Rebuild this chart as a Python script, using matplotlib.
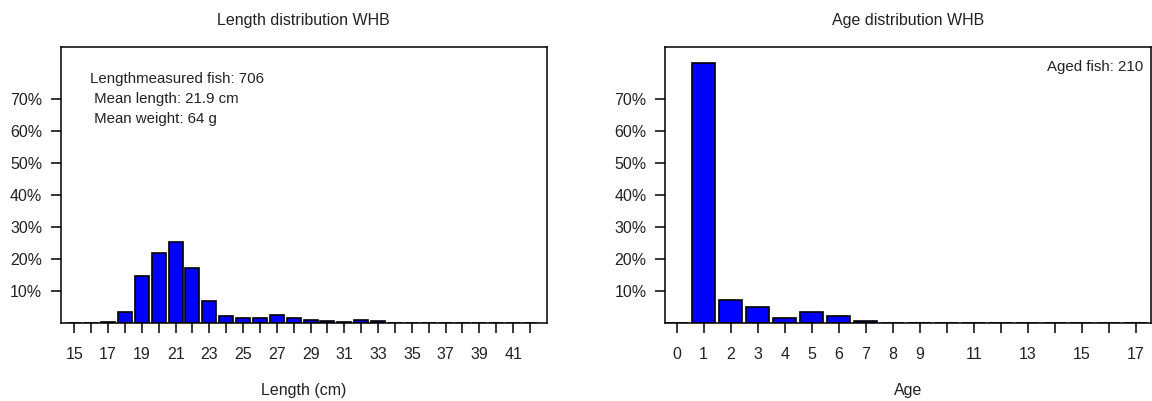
import numpy as np
import matplotlib
matplotlib.use("Agg")
import matplotlib.pyplot as plt

plt.rcParams["font.family"] = ["Liberation Sans", "DejaVu Sans"]

# length distribution (share of fish per cm class)
LEN_CM = list(range(15, 43))
LEN_PCT = [0.0, 0.0, 0.3, 3.4, 14.7, 21.9, 25.4, 17.0, 6.7, 2.0, 1.6, 1.4, 2.4, 1.4,
           0.8, 0.5, 0.3, 0.9, 0.4, 0, 0, 0, 0, 0, 0, 0, 0, 0]
# age distribution
AGES = list(range(0, 18))
AGE_PCT = [0.0, 81.3, 7.1, 4.8, 1.5, 3.2, 2.0, 0.4, 0, 0, 0, 0, 0, 0, 0, 0, 0, 0]
LEN_LABELS = [str(v) if v % 2 == 1 else "" for v in LEN_CM]
AGE_LABELS = [str(v) if (v < 10 or v % 2 == 1) else "" for v in AGES]
INFO_LEN = ["Lengthmeasured fish: 706", " Mean length: 21.9 cm", " Mean weight: 64 g"]
INFO_AGE = "Aged fish: 210"

W, H = 1152, 401
FS = 11.5
FS_INFO = 10.8
TXT = "#222222"
fig = plt.figure(figsize=(W / 100, H / 100), dpi=100)


def px_axes(x0, x1, top, bottom):
    return fig.add_axes([x0 / W, 1 - bottom / H, (x1 - x0) / W, (bottom - top) / H])


def panel(ax, pct, labels, xlim, title, xlabel, cx):
    x = np.arange(len(pct))
    ax.bar(x, np.array(pct) / 100, width=1 / 1.2, color="#0000ff",
           edgecolor="black", linewidth=1.2)
    ax.set_xlim(*xlim)
    ax.set_ylim(0, 0.862)
    ax.set_yticks([0.1, 0.2, 0.3, 0.4, 0.5, 0.6, 0.7])
    ax.set_yticklabels([f"{v}%" for v in range(10, 80, 10)])
    ax.set_xticks(x)
    ax.set_xticklabels(labels)
    ax.tick_params(axis="y", length=7.2, width=1.1, pad=6, labelsize=FS, labelcolor=TXT)
    ax.tick_params(axis="x", length=7.2, width=1.1, pad=10, labelsize=FS, labelcolor=TXT)
    for s in ax.spines.values():
        s.set_linewidth(1.1)
    fig.text(cx / W, 1 - 21 / H, title, ha="center", va="center", fontsize=FS, color=TXT)
    fig.text(cx / W, 1 - 390 / H, xlabel, ha="center", va="center", fontsize=FS, color=TXT)


ax1 = px_axes(60.7, 546.7, 47.3, 322.7)
panel(ax1, LEN_PCT, LEN_LABELS, (-0.806, len(LEN_CM) - 1 + 0.99),
      "Length distribution WHB", "Length (cm)", 303.7)
for i, line in enumerate(INFO_LEN):
    ax1.text((90 - 60.7) / 486, (322.7 - (79.3 + 20 * i)) / 275.4, line,
             transform=ax1.transAxes, ha="left", va="center", fontsize=FS_INFO, color=TXT)

ax2 = px_axes(665, 1150.7, 47.3, 322.7)
panel(ax2, AGE_PCT, AGE_LABELS, (-0.43, len(AGES) - 1 + 0.556),
      "Age distribution WHB", "Age", 908)
ax2.text((1143 - 665) / 485.7, (322.7 - 67) / 275.4, INFO_AGE,
         transform=ax2.transAxes, ha="right", va="center", fontsize=FS_INFO, color=TXT)

fig.savefig("out.png", dpi=100)
